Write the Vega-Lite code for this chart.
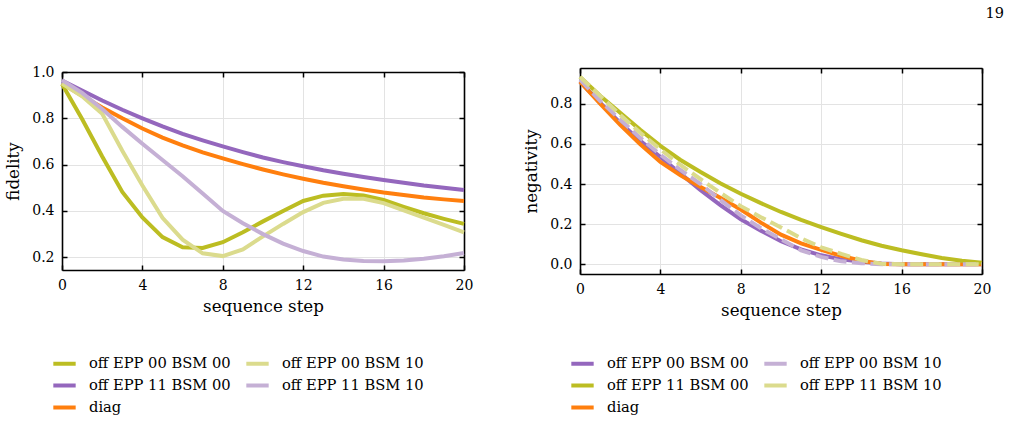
{
  "$schema": "https://vega.github.io/schema/vega-lite/v6.json",
  "background": "white",
  "padding": {"left": 5, "top": 5, "right": 5, "bottom": 5},
  "title": {"text": "19", "anchor": "end", "fontSize": 14.5, "font": "DejaVu Serif", "fontWeight": "normal", "color": "#000", "offset": 44, "dx": 13},
  "config": {
    "font": "DejaVu Serif",
    "view": {"stroke": null},
    "axis": {
      "labelFont": "DejaVu Serif", "labelFontSize": 14, "labelColor": "#000", "labelFlush": false,
      "titleFont": "DejaVu Serif", "titleFontSize": 16.7, "titleFontWeight": "normal", "titleColor": "#000",
      "domainColor": "#000", "domainWidth": 1.6,
      "tickColor": "#000", "tickWidth": 1.5, "tickSize": -5, "labelPadding": 13,
      "gridColor": "#e3e3e3", "gridWidth": 1
    },
    "legend": {
      "labelFont": "DejaVu Serif", "labelFontSize": 14.7, "labelColor": "#000",
      "symbolType": "stroke", "symbolStrokeWidth": 4, "symbolSize": 500, "symbolDash": [1, 0],
      "columnPadding": 7, "rowPadding": 0, "labelOffset": 11, "labelLimit": 300
    }
  },
  "bounds": "flush",
  "center": true,
  "spacing": 116,
  "resolve": {"scale": {"color": "independent"}, "legend": {"color": "independent"}},
  "datasets": {
    "fid": [
      {"s": "diag", "x": 0, "y": 0.95}, {"s": "diag", "x": 1, "y": 0.897}, {"s": "diag", "x": 2, "y": 0.847}, {"s": "diag", "x": 3, "y": 0.8}, {"s": "diag", "x": 4, "y": 0.756}, {"s": "diag", "x": 5, "y": 0.717}, {"s": "diag", "x": 6, "y": 0.683}, {"s": "diag", "x": 7, "y": 0.653}, {"s": "diag", "x": 8, "y": 0.627}, {"s": "diag", "x": 9, "y": 0.602}, {"s": "diag", "x": 10, "y": 0.579}, {"s": "diag", "x": 11, "y": 0.558}, {"s": "diag", "x": 12, "y": 0.539}, {"s": "diag", "x": 13, "y": 0.522}, {"s": "diag", "x": 14, "y": 0.507}, {"s": "diag", "x": 15, "y": 0.493}, {"s": "diag", "x": 16, "y": 0.48}, {"s": "diag", "x": 17, "y": 0.469}, {"s": "diag", "x": 18, "y": 0.458}, {"s": "diag", "x": 19, "y": 0.45}, {"s": "diag", "x": 20, "y": 0.443},
      {"s": "off EPP 11 BSM 00", "x": 0, "y": 0.963}, {"s": "off EPP 11 BSM 00", "x": 1, "y": 0.92}, {"s": "off EPP 11 BSM 00", "x": 2, "y": 0.877}, {"s": "off EPP 11 BSM 00", "x": 3, "y": 0.837}, {"s": "off EPP 11 BSM 00", "x": 4, "y": 0.8}, {"s": "off EPP 11 BSM 00", "x": 5, "y": 0.765}, {"s": "off EPP 11 BSM 00", "x": 6, "y": 0.733}, {"s": "off EPP 11 BSM 00", "x": 7, "y": 0.705}, {"s": "off EPP 11 BSM 00", "x": 8, "y": 0.679}, {"s": "off EPP 11 BSM 00", "x": 9, "y": 0.654}, {"s": "off EPP 11 BSM 00", "x": 10, "y": 0.631}, {"s": "off EPP 11 BSM 00", "x": 11, "y": 0.611}, {"s": "off EPP 11 BSM 00", "x": 12, "y": 0.593}, {"s": "off EPP 11 BSM 00", "x": 13, "y": 0.576}, {"s": "off EPP 11 BSM 00", "x": 14, "y": 0.561}, {"s": "off EPP 11 BSM 00", "x": 15, "y": 0.547}, {"s": "off EPP 11 BSM 00", "x": 16, "y": 0.534}, {"s": "off EPP 11 BSM 00", "x": 17, "y": 0.522}, {"s": "off EPP 11 BSM 00", "x": 18, "y": 0.51}, {"s": "off EPP 11 BSM 00", "x": 19, "y": 0.5}, {"s": "off EPP 11 BSM 00", "x": 20, "y": 0.49},
      {"s": "off EPP 00 BSM 00", "x": 0, "y": 0.948}, {"s": "off EPP 00 BSM 00", "x": 1, "y": 0.797}, {"s": "off EPP 00 BSM 00", "x": 2, "y": 0.635}, {"s": "off EPP 00 BSM 00", "x": 3, "y": 0.482}, {"s": "off EPP 00 BSM 00", "x": 4, "y": 0.372}, {"s": "off EPP 00 BSM 00", "x": 5, "y": 0.287}, {"s": "off EPP 00 BSM 00", "x": 6, "y": 0.243}, {"s": "off EPP 00 BSM 00", "x": 7, "y": 0.24}, {"s": "off EPP 00 BSM 00", "x": 8, "y": 0.265}, {"s": "off EPP 00 BSM 00", "x": 9, "y": 0.308}, {"s": "off EPP 00 BSM 00", "x": 10, "y": 0.355}, {"s": "off EPP 00 BSM 00", "x": 11, "y": 0.4}, {"s": "off EPP 00 BSM 00", "x": 12, "y": 0.443}, {"s": "off EPP 00 BSM 00", "x": 13, "y": 0.466}, {"s": "off EPP 00 BSM 00", "x": 14, "y": 0.473}, {"s": "off EPP 00 BSM 00", "x": 15, "y": 0.467}, {"s": "off EPP 00 BSM 00", "x": 16, "y": 0.448}, {"s": "off EPP 00 BSM 00", "x": 17, "y": 0.418}, {"s": "off EPP 00 BSM 00", "x": 18, "y": 0.39}, {"s": "off EPP 00 BSM 00", "x": 19, "y": 0.366}, {"s": "off EPP 00 BSM 00", "x": 20, "y": 0.344},
      {"s": "off EPP 00 BSM 10", "x": 0, "y": 0.95}, {"s": "off EPP 00 BSM 10", "x": 1, "y": 0.895}, {"s": "off EPP 00 BSM 10", "x": 2, "y": 0.82}, {"s": "off EPP 00 BSM 10", "x": 3, "y": 0.66}, {"s": "off EPP 00 BSM 10", "x": 4, "y": 0.51}, {"s": "off EPP 00 BSM 10", "x": 5, "y": 0.37}, {"s": "off EPP 00 BSM 10", "x": 6, "y": 0.276}, {"s": "off EPP 00 BSM 10", "x": 7, "y": 0.217}, {"s": "off EPP 00 BSM 10", "x": 8, "y": 0.205}, {"s": "off EPP 00 BSM 10", "x": 9, "y": 0.234}, {"s": "off EPP 00 BSM 10", "x": 10, "y": 0.29}, {"s": "off EPP 00 BSM 10", "x": 11, "y": 0.344}, {"s": "off EPP 00 BSM 10", "x": 12, "y": 0.395}, {"s": "off EPP 00 BSM 10", "x": 13, "y": 0.435}, {"s": "off EPP 00 BSM 10", "x": 14, "y": 0.453}, {"s": "off EPP 00 BSM 10", "x": 15, "y": 0.453}, {"s": "off EPP 00 BSM 10", "x": 16, "y": 0.434}, {"s": "off EPP 00 BSM 10", "x": 17, "y": 0.402}, {"s": "off EPP 00 BSM 10", "x": 18, "y": 0.371}, {"s": "off EPP 00 BSM 10", "x": 19, "y": 0.34}, {"s": "off EPP 00 BSM 10", "x": 20, "y": 0.308},
      {"s": "off EPP 11 BSM 10", "x": 0, "y": 0.965}, {"s": "off EPP 11 BSM 10", "x": 1, "y": 0.91}, {"s": "off EPP 11 BSM 10", "x": 2, "y": 0.84}, {"s": "off EPP 11 BSM 10", "x": 3, "y": 0.763}, {"s": "off EPP 11 BSM 10", "x": 4, "y": 0.69}, {"s": "off EPP 11 BSM 10", "x": 5, "y": 0.62}, {"s": "off EPP 11 BSM 10", "x": 6, "y": 0.55}, {"s": "off EPP 11 BSM 10", "x": 7, "y": 0.475}, {"s": "off EPP 11 BSM 10", "x": 8, "y": 0.4}, {"s": "off EPP 11 BSM 10", "x": 9, "y": 0.347}, {"s": "off EPP 11 BSM 10", "x": 10, "y": 0.3}, {"s": "off EPP 11 BSM 10", "x": 11, "y": 0.259}, {"s": "off EPP 11 BSM 10", "x": 12, "y": 0.227}, {"s": "off EPP 11 BSM 10", "x": 13, "y": 0.203}, {"s": "off EPP 11 BSM 10", "x": 14, "y": 0.19}, {"s": "off EPP 11 BSM 10", "x": 15, "y": 0.184}, {"s": "off EPP 11 BSM 10", "x": 16, "y": 0.183}, {"s": "off EPP 11 BSM 10", "x": 17, "y": 0.186}, {"s": "off EPP 11 BSM 10", "x": 18, "y": 0.194}, {"s": "off EPP 11 BSM 10", "x": 19, "y": 0.204}, {"s": "off EPP 11 BSM 10", "x": 20, "y": 0.218}
    ],
    "neg": [
      {"s": "off EPP 00 BSM 00", "x": 0, "y": 0.91}, {"s": "off EPP 00 BSM 00", "x": 1, "y": 0.805}, {"s": "off EPP 00 BSM 00", "x": 2, "y": 0.705}, {"s": "off EPP 00 BSM 00", "x": 3, "y": 0.615}, {"s": "off EPP 00 BSM 00", "x": 4, "y": 0.535}, {"s": "off EPP 00 BSM 00", "x": 5, "y": 0.452}, {"s": "off EPP 00 BSM 00", "x": 6, "y": 0.37}, {"s": "off EPP 00 BSM 00", "x": 7, "y": 0.294}, {"s": "off EPP 00 BSM 00", "x": 8, "y": 0.225}, {"s": "off EPP 00 BSM 00", "x": 9, "y": 0.168}, {"s": "off EPP 00 BSM 00", "x": 10, "y": 0.115}, {"s": "off EPP 00 BSM 00", "x": 11, "y": 0.075}, {"s": "off EPP 00 BSM 00", "x": 12, "y": 0.045}, {"s": "off EPP 00 BSM 00", "x": 13, "y": 0.025}, {"s": "off EPP 00 BSM 00", "x": 14, "y": 0.013}, {"s": "off EPP 00 BSM 00", "x": 15, "y": 0.004}, {"s": "off EPP 00 BSM 00", "x": 16, "y": 0}, {"s": "off EPP 00 BSM 00", "x": 17, "y": 0}, {"s": "off EPP 00 BSM 00", "x": 18, "y": 0}, {"s": "off EPP 00 BSM 00", "x": 19, "y": 0}, {"s": "off EPP 00 BSM 00", "x": 20, "y": 0},
      {"s": "diag", "x": 0, "y": 0.91}, {"s": "diag", "x": 1, "y": 0.8}, {"s": "diag", "x": 2, "y": 0.695}, {"s": "diag", "x": 3, "y": 0.598}, {"s": "diag", "x": 4, "y": 0.51}, {"s": "diag", "x": 5, "y": 0.443}, {"s": "diag", "x": 6, "y": 0.385}, {"s": "diag", "x": 7, "y": 0.33}, {"s": "diag", "x": 8, "y": 0.273}, {"s": "diag", "x": 9, "y": 0.208}, {"s": "diag", "x": 10, "y": 0.148}, {"s": "diag", "x": 11, "y": 0.105}, {"s": "diag", "x": 12, "y": 0.072}, {"s": "diag", "x": 13, "y": 0.042}, {"s": "diag", "x": 14, "y": 0.018}, {"s": "diag", "x": 15, "y": 0.002}, {"s": "diag", "x": 16, "y": 0}, {"s": "diag", "x": 17, "y": 0}, {"s": "diag", "x": 18, "y": 0}, {"s": "diag", "x": 19, "y": 0}, {"s": "diag", "x": 20, "y": 0},
      {"s": "off EPP 11 BSM 00", "x": 0, "y": 0.934}, {"s": "off EPP 11 BSM 00", "x": 1, "y": 0.84}, {"s": "off EPP 11 BSM 00", "x": 2, "y": 0.755}, {"s": "off EPP 11 BSM 00", "x": 3, "y": 0.67}, {"s": "off EPP 11 BSM 00", "x": 4, "y": 0.59}, {"s": "off EPP 11 BSM 00", "x": 5, "y": 0.52}, {"s": "off EPP 11 BSM 00", "x": 6, "y": 0.46}, {"s": "off EPP 11 BSM 00", "x": 7, "y": 0.403}, {"s": "off EPP 11 BSM 00", "x": 8, "y": 0.352}, {"s": "off EPP 11 BSM 00", "x": 9, "y": 0.305}, {"s": "off EPP 11 BSM 00", "x": 10, "y": 0.261}, {"s": "off EPP 11 BSM 00", "x": 11, "y": 0.222}, {"s": "off EPP 11 BSM 00", "x": 12, "y": 0.186}, {"s": "off EPP 11 BSM 00", "x": 13, "y": 0.152}, {"s": "off EPP 11 BSM 00", "x": 14, "y": 0.12}, {"s": "off EPP 11 BSM 00", "x": 15, "y": 0.093}, {"s": "off EPP 11 BSM 00", "x": 16, "y": 0.07}, {"s": "off EPP 11 BSM 00", "x": 17, "y": 0.05}, {"s": "off EPP 11 BSM 00", "x": 18, "y": 0.032}, {"s": "off EPP 11 BSM 00", "x": 19, "y": 0.018}, {"s": "off EPP 11 BSM 00", "x": 20, "y": 0.008},
      {"s": "off EPP 00 BSM 10", "x": 0, "y": 0.92}, {"s": "off EPP 00 BSM 10", "x": 1, "y": 0.815}, {"s": "off EPP 00 BSM 10", "x": 2, "y": 0.72}, {"s": "off EPP 00 BSM 10", "x": 3, "y": 0.63}, {"s": "off EPP 00 BSM 10", "x": 4, "y": 0.546}, {"s": "off EPP 00 BSM 10", "x": 5, "y": 0.47}, {"s": "off EPP 00 BSM 10", "x": 6, "y": 0.4}, {"s": "off EPP 00 BSM 10", "x": 7, "y": 0.32}, {"s": "off EPP 00 BSM 10", "x": 8, "y": 0.244}, {"s": "off EPP 00 BSM 10", "x": 9, "y": 0.18}, {"s": "off EPP 00 BSM 10", "x": 10, "y": 0.125}, {"s": "off EPP 00 BSM 10", "x": 11, "y": 0.07}, {"s": "off EPP 00 BSM 10", "x": 12, "y": 0.037}, {"s": "off EPP 00 BSM 10", "x": 13, "y": 0.015}, {"s": "off EPP 00 BSM 10", "x": 14, "y": 0.006}, {"s": "off EPP 00 BSM 10", "x": 15, "y": 0}, {"s": "off EPP 00 BSM 10", "x": 16, "y": 0}, {"s": "off EPP 00 BSM 10", "x": 17, "y": 0}, {"s": "off EPP 00 BSM 10", "x": 18, "y": 0}, {"s": "off EPP 00 BSM 10", "x": 19, "y": 0}, {"s": "off EPP 00 BSM 10", "x": 20, "y": 0},
      {"s": "off EPP 11 BSM 10", "x": 0, "y": 0.934}, {"s": "off EPP 11 BSM 10", "x": 1, "y": 0.84}, {"s": "off EPP 11 BSM 10", "x": 2, "y": 0.745}, {"s": "off EPP 11 BSM 10", "x": 3, "y": 0.655}, {"s": "off EPP 11 BSM 10", "x": 4, "y": 0.573}, {"s": "off EPP 11 BSM 10", "x": 5, "y": 0.495}, {"s": "off EPP 11 BSM 10", "x": 6, "y": 0.424}, {"s": "off EPP 11 BSM 10", "x": 7, "y": 0.355}, {"s": "off EPP 11 BSM 10", "x": 8, "y": 0.29}, {"s": "off EPP 11 BSM 10", "x": 9, "y": 0.235}, {"s": "off EPP 11 BSM 10", "x": 10, "y": 0.184}, {"s": "off EPP 11 BSM 10", "x": 11, "y": 0.13}, {"s": "off EPP 11 BSM 10", "x": 12, "y": 0.085}, {"s": "off EPP 11 BSM 10", "x": 13, "y": 0.052}, {"s": "off EPP 11 BSM 10", "x": 14, "y": 0.022}, {"s": "off EPP 11 BSM 10", "x": 15, "y": 0.003}, {"s": "off EPP 11 BSM 10", "x": 16, "y": 0}, {"s": "off EPP 11 BSM 10", "x": 17, "y": 0}, {"s": "off EPP 11 BSM 10", "x": 18, "y": 0}, {"s": "off EPP 11 BSM 10", "x": 19, "y": 0}, {"s": "off EPP 11 BSM 10", "x": 20, "y": 0}
    ]
  },
  "hconcat": [
    {
      "width": 402, "height": 198,
      "data": {"name": "fid"},
      "layer": [
        {
          "mark": {"type": "line", "strokeWidth": 4},
          "encoding": {
            "x": {"field": "x", "type": "quantitative", "scale": {"domain": [0, 20], "nice": false}, "axis": {"title": "sequence step", "values": [0, 4, 8, 12, 16, 20], "titlePadding": 6}},
            "y": {"field": "y", "type": "quantitative", "scale": {"domain": [0.145, 1.0], "nice": false, "zero": false}, "axis": {"title": "fidelity", "values": [0.2, 0.4, 0.6, 0.8, 1.0], "format": ".1f", "titlePadding": 9}},
            "color": {
              "field": "s", "type": "nominal",
              "scale": {"domain": ["off EPP 00 BSM 00", "off EPP 11 BSM 00", "diag", "off EPP 00 BSM 10", "off EPP 11 BSM 10"], "range": ["#bcbd22", "#9467bd", "#ff7f0e", "#dbdb8d", "#c5b0d5"]},
              "legend": {"orient": "none", "legendX": -11, "legendY": 278, "columns": 2, "title": null}
            }
          }
        },
        {
          "mark": {"type": "point", "opacity": 0},
          "encoding": {
            "x": {"field": "x", "type": "quantitative", "axis": {"orient": "top", "labels": false, "title": null, "grid": false, "values": [0, 4, 8, 12, 16, 20]}},
            "y": {"field": "y", "type": "quantitative", "axis": {"orient": "right", "labels": false, "title": null, "grid": false, "values": [0.2, 0.4, 0.6, 0.8, 1.0]}}
          }
        }
      ],
      "resolve": {"axis": {"x": "independent", "y": "independent"}}
    },
    {
      "width": 402, "height": 206,
      "data": {"name": "neg"},
      "encoding": {
        "color": {
          "field": "s", "type": "nominal",
          "scale": {"domain": ["off EPP 00 BSM 00", "off EPP 11 BSM 00", "diag", "off EPP 00 BSM 10", "off EPP 11 BSM 10"], "range": ["#9467bd", "#bcbd22", "#ff7f0e", "#c5b0d5", "#dbdb8d"]},
          "legend": {"orient": "none", "legendX": -11, "legendY": 282, "columns": 2, "title": null, "symbolDash": [1, 0]}
        }
      },
      "layer": [
        {
          "transform": [{"filter": {"field": "s", "oneOf": ["off EPP 00 BSM 00", "diag", "off EPP 11 BSM 00"]}}],
          "mark": {"type": "line", "strokeWidth": 4},
          "encoding": {
            "x": {"field": "x", "type": "quantitative", "scale": {"domain": [0, 20], "nice": false}, "axis": {"title": "sequence step", "values": [0, 4, 8, 12, 16, 20], "titlePadding": 6}},
            "y": {"field": "y", "type": "quantitative", "scale": {"domain": [-0.048, 0.978], "nice": false, "zero": false}, "axis": {"title": "negativity", "values": [0, 0.2, 0.4, 0.6, 0.8], "format": ".1f", "titlePadding": 9}}
          }
        },
        {
          "transform": [{"filter": {"field": "s", "oneOf": ["off EPP 00 BSM 10", "off EPP 11 BSM 10"]}}],
          "mark": {"type": "line", "strokeWidth": 4, "strokeDash": [13, 5.5]},
          "encoding": {
            "x": {"field": "x", "type": "quantitative", "axis": null},
            "y": {"field": "y", "type": "quantitative", "axis": null}
          }
        },
        {
          "mark": {"type": "point", "opacity": 0},
          "encoding": {
            "color": {"value": "#000"},
            "x": {"field": "x", "type": "quantitative", "axis": {"orient": "top", "labels": false, "title": null, "grid": false, "values": [0, 4, 8, 12, 16, 20]}},
            "y": {"field": "y", "type": "quantitative", "axis": {"orient": "right", "labels": false, "title": null, "grid": false, "values": [0, 0.2, 0.4, 0.6, 0.8]}}
          }
        }
      ],
      "resolve": {"axis": {"x": "independent", "y": "independent"}}
    }
  ]
}
